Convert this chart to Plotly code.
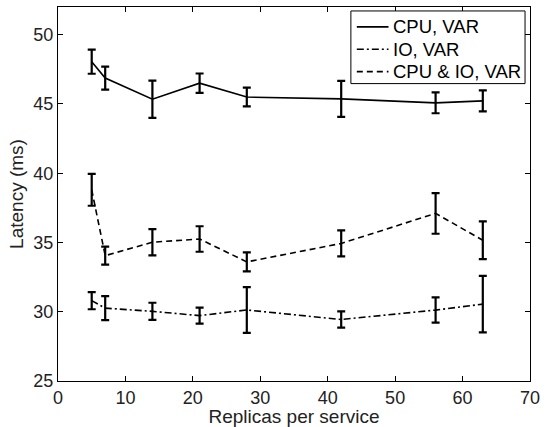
import plotly.graph_objects as go

replicas = [5, 7, 14, 21, 28, 42, 56, 63]

cpu_mean = [48.05, 46.87, 45.34, 46.5, 45.5, 45.37, 45.08, 45.22]
cpu_err = [0.87, 0.83, 1.34, 0.7, 0.68, 1.3, 0.75, 0.76]

io_mean = [30.8, 30.26, 30.03, 29.72, 30.13, 29.44, 30.12, 30.55]
io_err = [0.62, 0.87, 0.62, 0.58, 1.65, 0.59, 0.91, 2.04]

both_mean = [38.8, 34.05, 35.02, 35.25, 33.6, 34.93, 37.1, 35.16]
both_err = [1.15, 0.65, 0.95, 0.92, 0.69, 0.94, 1.47, 1.36]

series_names = ["CPU, VAR", "IO, VAR", "CPU & IO, VAR"]
series_dash = ["solid", "7px,3px,2px,3px", "6px,4px"]

x_ticks = [0, 10, 20, 30, 40, 50, 60, 70]
y_ticks = [25, 30, 35, 40, 45, 50]

font_family = "Liberation Sans, Arial, Helvetica, sans-serif"

fig = go.Figure()

for name, y, err, dash in zip(series_names, [cpu_mean, io_mean, both_mean],
                              [cpu_err, io_err, both_err], series_dash):
    fig.add_trace(go.Scatter(
        x=replicas, y=y, name=name, mode="lines", showlegend=False,
        line=dict(color="black", width=1.6, dash=dash),
        error_y=dict(type="data", array=err, visible=True,
                     color="black", thickness=2.2, width=4),
    ))

axis_common = dict(
    showgrid=False, zeroline=False, showline=True, linecolor="black",
    linewidth=1.3, mirror="ticks", ticks="inside", ticklen=5,
    tickcolor="black", tickwidth=1,
    tickfont=dict(family=font_family, size=18, color="#222"),
)

fig.update_xaxes(range=[0, 70], tickvals=x_ticks, **axis_common,
                 title=dict(text="Replicas per service", standoff=0,
                            font=dict(family=font_family, size=19, color="#222")))
fig.update_yaxes(range=[25, 52], tickvals=y_ticks, **axis_common,
                 title=dict(text="Latency (ms)", standoff=4,
                            font=dict(family=font_family, size=19, color="#222")))

# Legend box drawn in paper coordinates (MATLAB-style legend)
leg_x0, leg_x1, leg_y0, leg_y1 = 0.6205, 0.9895, 0.7952, 0.9894
row_y = [0.9468, 0.8870, 0.8271]
sample_x0, sample_x1, text_x = 0.6331, 0.7002, 0.7065

shapes = [dict(type="rect", xref="paper", yref="paper",
               x0=leg_x0, x1=leg_x1, y0=leg_y0, y1=leg_y1,
               line=dict(color="black", width=1), fillcolor="white", layer="above")]
annotations = []
for name, dash, ry in zip(series_names, series_dash, row_y):
    shapes.append(dict(type="line", xref="paper", yref="paper",
                       x0=sample_x0, x1=sample_x1, y0=ry, y1=ry,
                       line=dict(color="black", width=1.6, dash=dash), layer="above"))
    annotations.append(dict(xref="paper", yref="paper", x=text_x, y=ry,
                            xanchor="left", yanchor="middle", showarrow=False,
                            text=name.replace("&", "&amp;"),
                            font=dict(family=font_family, size=18.5, color="black")))

fig.update_layout(
    width=546, height=427,
    margin=dict(l=58, r=11, t=6, b=45),
    plot_bgcolor="white", paper_bgcolor="white",
    font=dict(family=font_family, size=18, color="#222"),
    showlegend=False,
    shapes=shapes,
    annotations=annotations,
)

fig.write_html("out.html")
